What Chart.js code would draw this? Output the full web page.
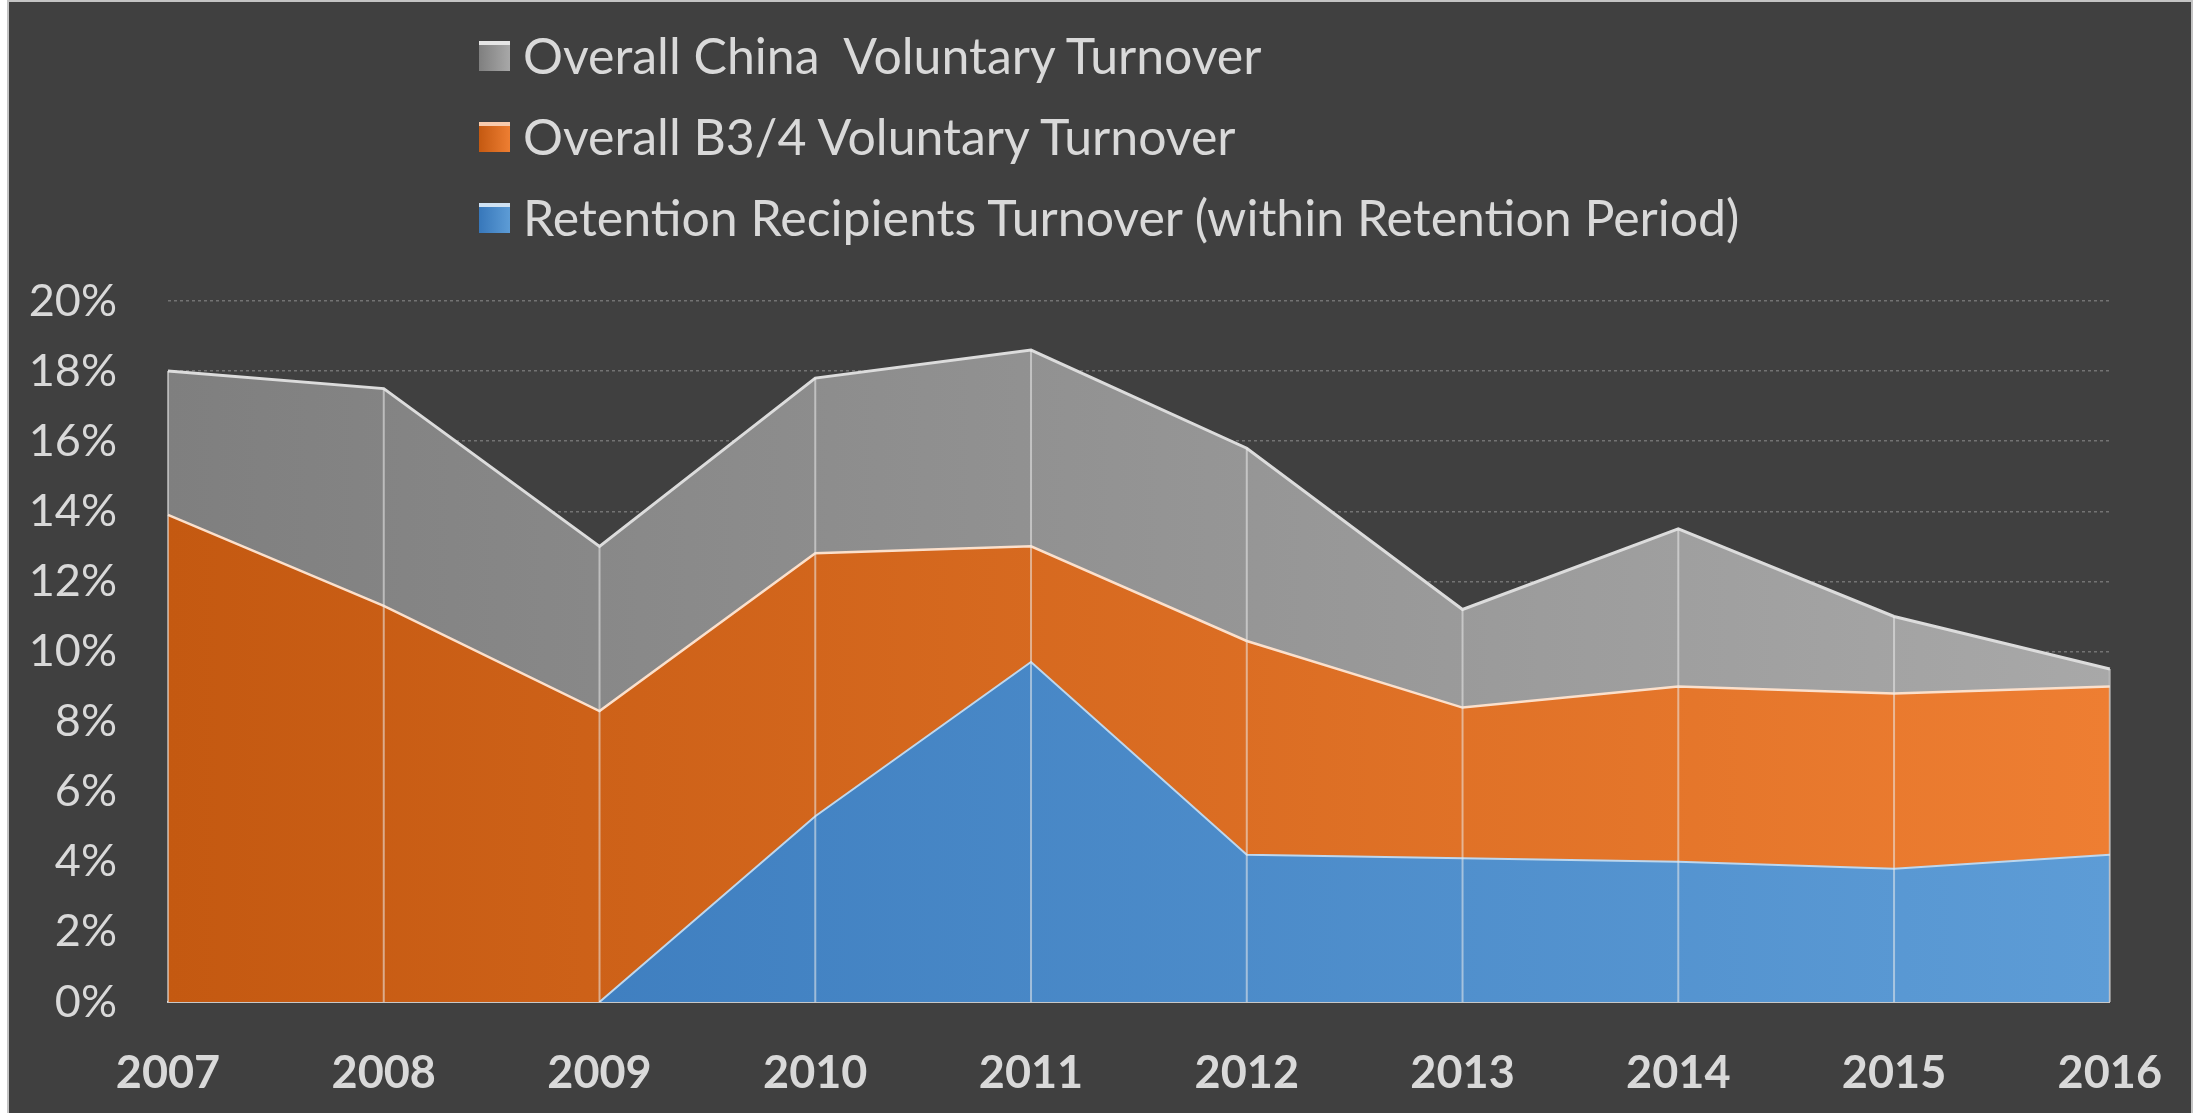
<!DOCTYPE html>
<html>
<head>
<meta charset="utf-8">
<script src="https://cdn.jsdelivr.net/npm/chart.js@4.4.1/dist/chart.umd.min.js"></script>
<style>
  html, body { margin: 0; padding: 0; background: #ffffff; width: 2206px; height: 1113px; overflow: hidden; }
  #frame { position: absolute; left: 7px; top: 0; width: 2186px; height: 1113px; background: #404040;
           border-left: 2px solid #c4c4c4; border-right: 2px solid #c4c4c4; border-top: 2px solid #c4c4c4; box-sizing: border-box; }
  #c { position: absolute; left: 0; top: 0; }
  #legend { position: absolute; left: 479px; top: 0; font-family: Lato, "Open Sans", sans-serif; color: #d9d9d9; }
  .item { position: absolute; left: 0; white-space: pre; height: 60px; line-height: 60px; font-size: 50px; }
  .box { position: absolute; left: 0; top: 15px; width: 31px; height: 30px; }
  .txt { position: absolute; left: 44px; top: -1px; }
</style>
</head>
<body>
<div id="frame"></div>
<canvas id="c" width="2206" height="1113"></canvas>
<div id="legend"></div>
<script>
// ---- data ----
const years = ['2007', '2008', '2009', '2010', '2011', '2012', '2013', '2014', '2015', '2016'];
const chinaTurnover = [18.0, 17.5, 13.0, 17.8, 18.6, 15.8, 11.2, 13.5, 11.0, 9.5];
const b34Turnover = [13.9, 11.3, 8.3, 12.8, 13.0, 10.3, 8.4, 9.0, 8.8, 9.0];
const retentionTurnover = [null, null, 0, 5.3, 9.7, 4.2, 4.1, 4.0, 3.8, 4.2];
const seriesNames = ['Overall China  Voluntary Turnover', 'Overall B3/4 Voluntary Turnover', 'Retention Recipients Turnover (within Retention Period)'];
const yTicks = [0, 2, 4, 6, 8, 10, 12, 14, 16, 18, 20];

const palette = [
  { from: '#7f7f7f', to: '#a8a8a8', line: '#dcdcdc', stripe: '#e6e6e6' },
  { from: '#c45911', to: '#ee7e32', line: '#fbe0cc', stripe: '#f8cbad' },
  { from: '#3777ba', to: '#5d9cd6', line: '#bdd7ee', stripe: '#cfe2f3' }
];

// ---- legend (HTML text) ----
const legendEl = document.getElementById('legend');
const rowTops = [26, 107, 188];
seriesNames.forEach((name, i) => {
  const it = document.createElement('div');
  it.className = 'item';
  it.style.top = rowTops[i] + 'px';
  const b = document.createElement('div');
  b.className = 'box';
  b.style.background = 'linear-gradient(to bottom, ' + palette[i].stripe + ' 0, ' + palette[i].stripe + ' 4px, transparent 4px), linear-gradient(to right, ' + palette[i].from + ', ' + palette[i].to + ')';
  const t = document.createElement('span');
  t.className = 'txt';
  t.textContent = name;
  it.appendChild(b); it.appendChild(t);
  legendEl.appendChild(it);
});

function grad(i) {
  return (ctx) => {
    const area = ctx.chart.chartArea;
    if (!area) return palette[i].from;
    const g = ctx.chart.ctx.createLinearGradient(area.left, 0, area.right, 0);
    g.addColorStop(0, palette[i].from);
    g.addColorStop(1, palette[i].to);
    return g;
  };
}

const dropLines = {
  id: 'dropLines',
  afterDatasetsDraw(chart) {
    const x = chart.scales.x, y = chart.scales.y, c = chart.ctx;
    c.save();
    c.strokeStyle = 'rgba(235,235,235,0.55)';
    c.lineWidth = 2;
    chinaTurnover.forEach((v, i) => {
      const px = x.getPixelForValue(i);
      c.beginPath();
      c.moveTo(px, y.getPixelForValue(v));
      c.lineTo(px, y.getPixelForValue(0));
      c.stroke();
    });
    c.restore();
  }
};

new Chart(document.getElementById('c'), {
  type: 'line',
  data: {
    labels: years,
    datasets: [
      { label: seriesNames[2], data: retentionTurnover, fill: 'origin', backgroundColor: grad(2), borderColor: palette[2].line, borderWidth: 2, pointRadius: 0, tension: 0 },
      { label: seriesNames[1], data: b34Turnover, fill: 'origin', backgroundColor: grad(1), borderColor: palette[1].line, borderWidth: 2.5, pointRadius: 0, tension: 0 },
      { label: seriesNames[0], data: chinaTurnover, fill: 'origin', backgroundColor: grad(0), borderColor: palette[0].line, borderWidth: 3, pointRadius: 0, tension: 0 }
    ]
  },
  options: {
    responsive: false,
    devicePixelRatio: 1,
    animation: false,
    layout: { padding: { top: 301, right: 93, left: 0, bottom: 0 } },
    plugins: { legend: { display: false }, tooltip: { enabled: false } },
    scales: {
      x: {
        offset: false,
        grid: { display: false, drawTicks: false },
        border: { display: true, color: '#c8c8c8', width: 2 },
        ticks: { color: '#d9d9d9', font: { family: 'Lato', size: 45, weight: 'bold' }, padding: 44, maxRotation: 0, autoSkip: false },
        afterFit: (s) => { s.height = 111; }
      },
      y: {
        min: 0, max: 20,
        afterBuildTicks: (s) => { s.ticks = yTicks.map(v => ({ value: v })); },
        grid: { color: '#737373', lineWidth: 1.5, drawTicks: false },
        border: { display: false, dash: [3, 3] },
        ticks: { color: '#d9d9d9', font: { family: 'Lato', size: 45 }, padding: 51, callback: (v) => v + '%' },
        afterFit: (s) => { s.width = 168; }
      }
    }
  },
  plugins: [dropLines]
});
</script>
</body>
</html>
